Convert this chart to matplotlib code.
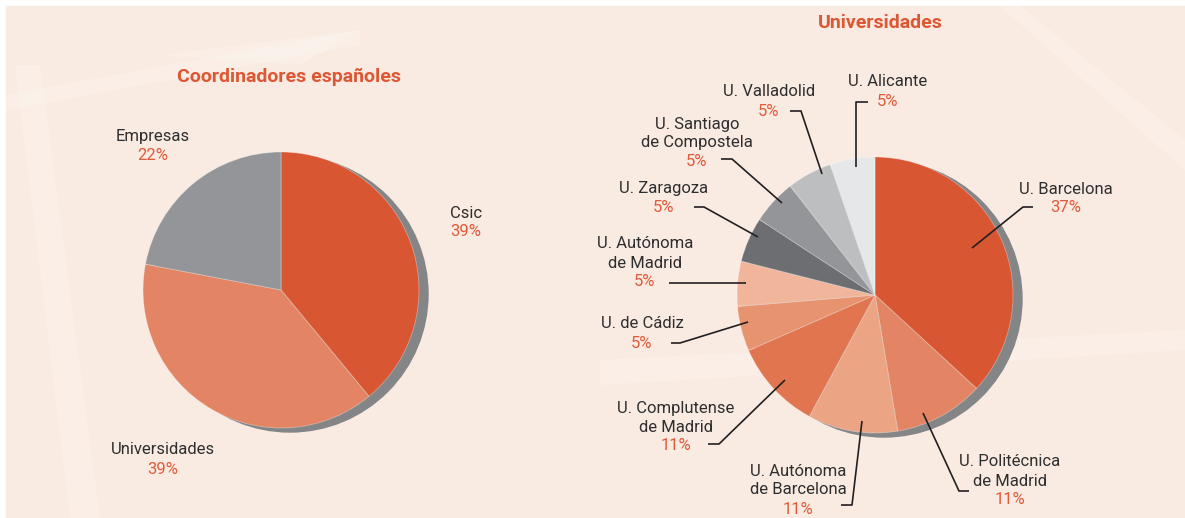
import matplotlib
matplotlib.use("Agg")
import matplotlib.pyplot as plt
from matplotlib.patches import Circle, Rectangle

plt.rcParams['font.family'] = ['Roboto', 'DejaVu Sans']

W, H = 1185, 518

# data
coord_labels = ['Csic', 'Universidades', 'Empresas']
coord_values = [39, 39, 22]
coord_colors = ['#d95632', '#e38564', '#939598']

uni_labels = ['U. Barcelona', 'U. Politécnica\nde Madrid', 'U. Autónoma\nde Barcelona',
              'U. Complutense\nde Madrid', 'U. de Cádiz', 'U. Autónoma\nde Madrid',
              'U. Zaragoza', 'U. Santiago\nde Compostela', 'U. Valladolid', 'U. Alicante']
uni_counts = [7, 2, 2, 2, 1, 1, 1, 1, 1, 1]
uni_colors = ['#d95632', '#e38564', '#eba584', '#e07550', '#e8936f', '#f0b59b',
              '#6d6e71', '#939598', '#bcbec0', '#e6e7e8']

TEXT = '#2e2e2e'
PCT = '#e05a3a'
LINE = '#231f20'

fig = plt.figure(figsize=(W / 100, H / 100), dpi=100)
fig.patch.set_facecolor('white')
ax = fig.add_axes([0, 0, 1, 1])
ax.set_xlim(0, W)
ax.set_ylim(0, H)
ax.set_aspect('equal')
ax.axis('off')

def Y(y):
    # pixel row (from top) -> data y
    return H - y

# background panel with faint structure
ax.add_patch(Rectangle((6, 0), W - 6, H - 6, color='#f9ebe2', zorder=0))
bands = [[(6, Y(95)), (360, Y(30)), (360, Y(45)), (6, Y(110))],
         [(160, Y(55)), (360, Y(30)), (300, Y(65))],
         [(15, Y(65)), (70, Y(518)), (100, Y(518)), (40, Y(65))],
         [(1020, Y(6)), (1185, Y(140)), (1185, Y(170)), (1000, Y(6))],
         [(600, Y(360)), (1185, Y(330)), (1185, Y(350)), (600, Y(385))]]
for b in bands:
    ax.add_patch(plt.Polygon(b, closed=True, color='white', alpha=0.2, lw=0, zorder=0.5))

def draw_pie(values, colors, cx, cy, r):
    # drop shadow behind the pie
    ax.add_patch(Circle((cx + 9, Y(cy) - 4), r, color='#838587', zorder=1))
    wedges, _ = ax.pie(values, colors=colors, startangle=90, counterclock=False,
                       center=(cx, Y(cy)), radius=r, frame=True,
                       wedgeprops=dict(linewidth=0.6, edgecolor=(1, 1, 1, 0.35)))
    for w in wedges:
        w.set_zorder(2)
    return wedges

def label(x, y, name, pct, dy=19):
    lines = name.split('\n')
    for i, ln in enumerate(lines):
        ax.text(x, Y(y + i * dy), ln, ha='center', va='center', fontsize=12,
                color=TEXT, zorder=5)
    ax.text(x, Y(y + len(lines) * dy), pct, ha='center', va='center', fontsize=12,
            color=PCT, zorder=5)

def leader(pts):
    xs = [p[0] for p in pts]
    ys = [Y(p[1]) for p in pts]
    ax.plot(xs, ys, color=LINE, lw=1.2, zorder=4, solid_capstyle='butt')

# left pie
draw_pie(coord_values, coord_colors, 281, 290, 138)
ax.text(289, Y(77), 'Coordinadores españoles', ha='center', va='center',
        fontsize=14, fontweight='bold', color='#dc5834', zorder=5)
tot = sum(coord_values)
coord_pct = ['%d%%' % round(100 * v / tot) for v in coord_values]
label(466, 213, coord_labels[0], coord_pct[0])
label(163, 450, coord_labels[1], coord_pct[1])
label(153, 137, coord_labels[2], coord_pct[2])

# right pie
draw_pie(uni_counts, uni_colors, 875, 295, 138)
ax.text(880, Y(23), 'Universidades', ha='center', va='center',
        fontsize=14, fontweight='bold', color='#dc5834', zorder=5)
tot = sum(uni_counts)
uni_pct = ['%d%%' % round(100 * v / tot) for v in uni_counts]

label_pos = [(1066, 189), (1010, 462), (798, 471), (676, 408), (642, 324),
             (645, 244), (664, 188), (697, 124), (769, 92), (888, 82)]
leaders = [[(1033, 207), (1023, 207), (972, 248)],
           [(969, 491), (959, 491), (923, 413)],
           [(841, 505), (852, 505), (862, 421)],
           [(708, 444), (719, 444), (785, 380)],
           [(671, 343), (680, 343), (748, 322)],
           [(669, 283), (746, 283)],
           [(694, 207), (704, 207), (758, 237)],
           [(721, 159), (732, 159), (782, 203)],
           [(790, 111), (801, 111), (822, 174)],
           [(868, 102), (856, 102), (856, 167)]]
for (x, y), name, pct, pts in zip(label_pos, uni_labels, uni_pct, leaders):
    label(x, y, name, pct)
    leader(pts)

fig.savefig('out.png', dpi=100, facecolor=fig.get_facecolor())
